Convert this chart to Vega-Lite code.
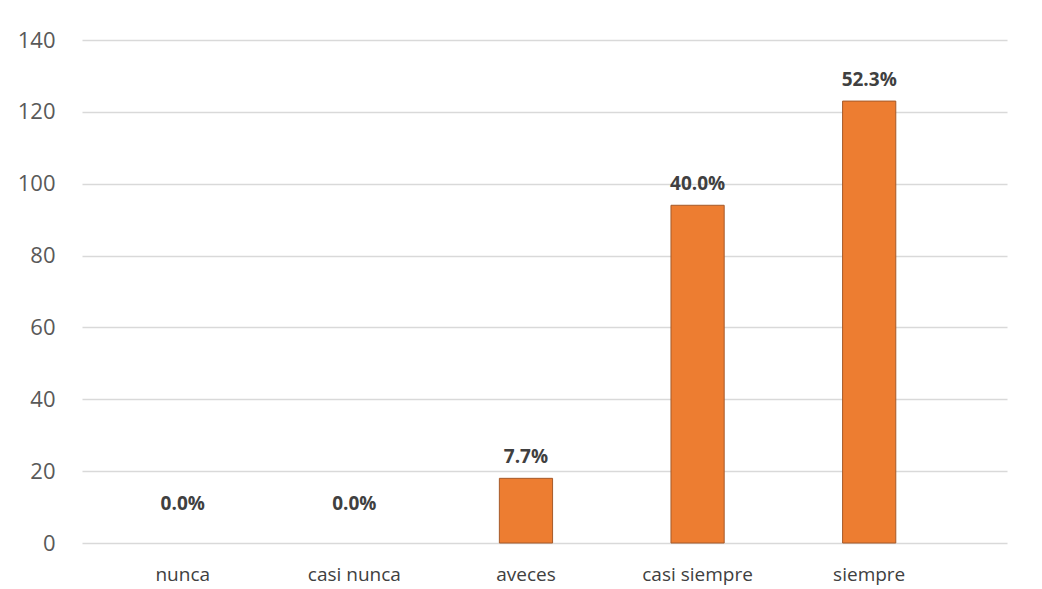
{
  "$schema": "https://vega.github.io/schema/vega-lite/v6.json",
  "autosize": {"type": "none"},
  "width": 925,
  "height": 503,
  "padding": {"left": 82, "top": 40, "right": 35, "bottom": 46},
  "background": "white",
  "config": {"view": {"stroke": null}},
  "data": {
    "values": [
      {"categoria": "nunca", "cantidad": 0, "pct": 0.0},
      {"categoria": "casi nunca", "cantidad": 0, "pct": 0.0},
      {"categoria": "aveces", "cantidad": 18, "pct": 0.077},
      {"categoria": "casi siempre", "cantidad": 94, "pct": 0.4},
      {"categoria": "siempre", "cantidad": 123, "pct": 0.523}
    ]
  },
  "encoding": {
    "x": {
      "field": "categoria",
      "type": "nominal",
      "sort": null,
      "scale": {"domain": ["nunca", "casi nunca", "aveces", "casi siempre", "siempre"], "paddingInner": 0.69, "paddingOuter": 0.54, "align": 0.4},
      "axis": {
        "title": null,
        "labelAngle": 0,
        "domain": false,
        "ticks": false,
        "labelPadding": 22,
        "labelFont": "Open Sans",
        "labelFontSize": 19,
        "labelColor": "#404040"
      }
    },
    "y": {
      "field": "cantidad",
      "type": "quantitative",
      "scale": {"domain": [0, 140], "nice": false},
      "axis": {
        "title": null,
        "values": [0, 20, 40, 60, 80, 100, 120, 140],
        "domain": false,
        "ticks": false,
        "labelPadding": 27,
        "labelFont": "Open Sans",
        "labelFontSize": 22,
        "labelColor": "#595959",
        "gridColor": "#D9D9D9",
        "gridWidth": 1.5
      }
    }
  },
  "layer": [
    {
      "transform": [{"filter": "datum.cantidad > 0"}],
      "mark": {"type": "bar", "color": "#ED7D31", "stroke": "#A55A2A", "strokeWidth": 1}
    },
    {
      "transform": [{"filter": "datum.cantidad > 0"}],
      "mark": {"type": "text", "baseline": "bottom", "dy": -11, "font": "Open Sans", "fontSize": 19, "fontWeight": "bold", "color": "#404040"},
      "encoding": {"text": {"field": "pct", "type": "quantitative", "format": ".1%"}}
    },
    {
      "transform": [{"filter": "datum.cantidad == 0"}],
      "mark": {"type": "text", "baseline": "bottom", "dy": -29, "font": "Open Sans", "fontSize": 19, "fontWeight": "bold", "color": "#404040"},
      "encoding": {"text": {"field": "pct", "type": "quantitative", "format": ".1%"}}
    }
  ]
}
